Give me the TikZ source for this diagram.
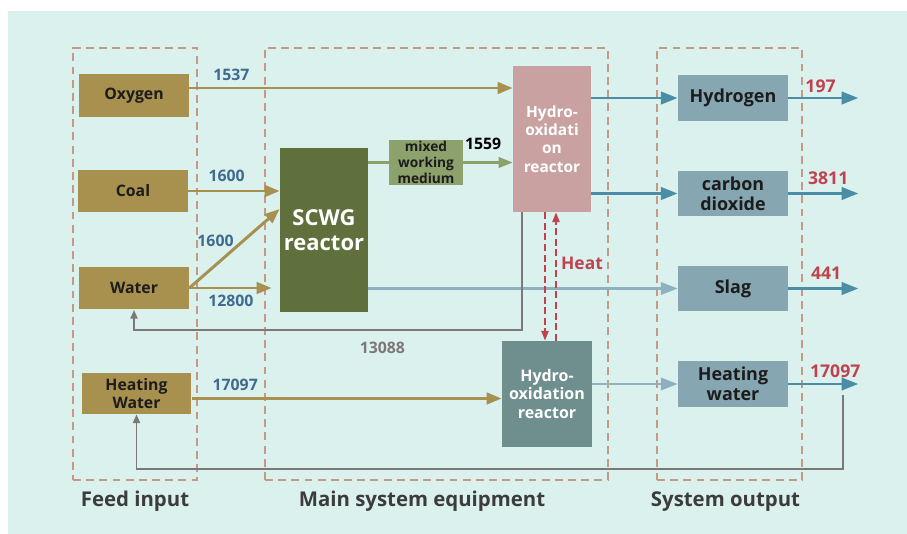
\documentclass[tikz,border=0pt]{standalone}
\usepackage{fontspec}
\setmainfont{Open Sans}
\usetikzlibrary{arrows.meta, positioning, calc}
\definecolor{bgcyan}{HTML}{DAF1EE}
\definecolor{feedgold}{HTML}{A8904F}
\definecolor{scwggreen}{HTML}{5F703C}
\definecolor{mixgreen}{HTML}{8DA16C}
\definecolor{hydpink}{HTML}{C9A1A1}
\definecolor{hydteal}{HTML}{6F8E8E}
\definecolor{outblue}{HTML}{86A6B2}
\definecolor{arrblue}{HTML}{4B8CA7}
\definecolor{paleblue}{HTML}{8EB0C0}
\definecolor{grpbrown}{HTML}{C49A84}
\definecolor{heatred}{HTML}{C0424D}
\definecolor{numblue}{HTML}{3F6B8F}
\definecolor{linegray}{HTML}{7D7878}
\definecolor{labelgray}{HTML}{3C3C3C}
\definecolor{boxtext}{HTML}{1C1C1C}
\newcommand{\feedfont}{\fontsize{9}{10.4}\selectfont\bfseries}
\newcommand{\outfont}{\fontsize{10.2}{11.4}\selectfont\bfseries}
\newcommand{\numfont}{\fontsize{9}{10}\selectfont\bfseries}
\tikzset{
  feedbox/.style={rectangle, fill=feedgold, minimum width=2.2cm, minimum height=0.86cm,
    font=\feedfont, align=center, text=boxtext, inner sep=1pt},
  outbox/.style={rectangle, fill=outblue, minimum width=2.2cm, minimum height=0.91cm,
    font=\outfont, align=center, text=boxtext, inner sep=1pt},
  reactor/.style={rectangle, align=center, text=white, inner sep=1pt},
  grp/.style={rectangle, draw=grpbrown, line width=1.1pt, dash pattern=on 4.5pt off 3pt},
  grplabel/.style={font=\fontsize{11.6}{13}\selectfont\bfseries, text=labelgray, inner sep=0pt},
  numlbl/.style={font=\numfont, text=numblue},
  outlbl/.style={font=\fontsize{10}{11}\selectfont\bfseries, text=heatred, inner sep=1pt},
  goldarr/.style={-{Triangle[length=8.5pt, width=6.5pt]}, line width=1.7pt, feedgold},
  greenline/.style={line width=1.4pt, mixgreen},
  greenarr/.style={-{Triangle[length=8pt, width=6pt]}, line width=1.4pt, mixgreen},
  bluearr/.style={-{Triangle[length=9.5pt, width=7pt]}, line width=1.7pt, arrblue},
  palearr/.style={-{Triangle[length=9.5pt, width=7pt]}, line width=1.2pt, paleblue},
  grayarr/.style={-{Triangle[length=5pt, width=4pt]}, line width=1.1pt, linegray},
  heatarr/.style={-{Triangle[length=5.5pt, width=4pt]}, line width=1.1pt, heatred,
    dash pattern=on 4pt off 2pt},
}

\begin{document}
\begin{tikzpicture}[x=0.02cm, y=-0.02cm]
  \useasboundingbox (0,0) rectangle (907,534);
  \fill[white] (0,0) rectangle (907,534);
  \fill[bgcyan] (8,11) rectangle (907,534);

  % dashed groups
  \node[grp, minimum width=2.48cm, minimum height=8.64cm] (feedgrp) at (135,264) {};
  \node[grp, minimum width=6.86cm, minimum height=8.64cm] (maingrp) at (436.5,264) {};
  \node[grp, minimum width=2.9cm, minimum height=8.64cm] (outgrp) at (729.5,264) {};
  \node[grplabel, below=0.2cm of feedgrp] (feedlbl) {Feed input};
  \node[grplabel, below=0.2cm of maingrp, xshift=-0.29cm] (mainlbl) {Main system equipment};
  \node[grplabel, below=0.2cm of outgrp, xshift=-0.08cm] (outlbl) {System output};

  % feed input
  \node[feedbox] (oxygen) at (134,95.5) {Oxygen};
  \node[feedbox] (coal) at (133,191) {Coal};
  \node[feedbox] (water) at (134,288) {Water};
  \node[feedbox, minimum height=0.82cm] (heatin) at (136.5,393.5) {Heating\\Water};

  % main equipment
  \node[reactor, fill=scwggreen, minimum width=1.76cm, minimum height=3.28cm,
    font=\fontsize{12.5}{14}\selectfont\bfseries] (scwg) at (324,230) {SCWG\\reactor};
  \node[reactor, fill=mixgreen, text=boxtext, minimum width=1.48cm, minimum height=0.9cm,
    font=\fontsize{7.8}{9}\selectfont\bfseries] (mixed) at (426,162.5) {mixed\\working\\medium};
  \node[reactor, fill=hydpink, minimum width=1.56cm, minimum height=2.92cm,
    font=\fontsize{8.8}{10.4}\selectfont\bfseries] (hydroA) at (552,139) {Hydro-\\oxidati\\on\\reactor};
  \node[reactor, fill=hydteal, minimum width=1.8cm, minimum height=2.12cm,
    font=\fontsize{9.1}{10.4}\selectfont\bfseries] (hydroB) at (547,394) {Hydro-\\oxidation\\reactor};

  % system output
  \node[outbox] (hydrogen) at (733,98) {Hydrogen};
  \node[outbox, minimum height=0.9cm] (cotwo) at (733,193.5) {carbon\\dioxide};
  \node[outbox, minimum height=0.9cm] (slag) at (733,288.5) {Slag};
  \node[outbox] (heatout) at (733,384) {Heating\\water};

  % feed flows
  \coordinate (oxout) at ([yshift=0.15cm]oxygen.east);
  \draw[goldarr] (oxout) -- node[numlbl, above, pos=0.13]{1537} (oxout -| hydroA.west);
  \draw[goldarr] (coal.east) -- node[numlbl, above=1pt, pos=0.42]{1600} (coal.east -| scwg.west);
  \draw[goldarr] (water.east) -- node[numlbl, left=1.5pt, pos=0.6]{1600} ([yshift=0.42cm]scwg.west);
  \draw[goldarr, shorten >=0.16cm] (water.east) -- node[numlbl, below, pos=0.46]{12800} (water.east -| scwg.west);
  \coordinate (hinout) at ([yshift=-0.1cm]heatin.east);
  \draw[goldarr] (hinout) -- node[numlbl, above, pos=0.14]{17097} (hinout -| hydroB.west);

  % main flows
  \draw[greenline] (scwg.east |- mixed.west) -- (mixed.west);
  \draw[greenarr] (mixed.east) -- node[numlbl, text=black, above=3pt, pos=0.4]{1559} (mixed.east -| hydroA.west);
  \draw[bluearr] (hydroA.east |- hydrogen.west) -- (hydrogen.west);
  \draw[bluearr] (hydroA.east |- cotwo.west) -- (cotwo.west);
  \draw[palearr] (scwg.east |- slag.west) -- (slag.west);
  \draw[palearr] (hydroB.east |- heatout.west) -- (heatout.west);
  \coordinate (rcout) at ([xshift=-0.6cm]hydroA.south);
  \draw[grayarr] (rcout) |- node[numlbl, text=linegray, below=3pt, pos=0.68]{13088}
    ([yshift=-0.4cm]water.south) -- (water.south);

  % heat exchange
  \coordinate (heatdn) at ([xshift=-0.14cm]hydroA.south);
  \coordinate (heatup) at ([xshift=0.08cm]hydroA.south);
  \draw[heatarr] (heatdn) -- (heatdn |- hydroB.north);
  \draw[heatarr] (heatup |- hydroB.north) -- (heatup);
  \node[font=\fontsize{9.9}{11}\selectfont\bfseries, text=heatred] (heatlabel) at (582,263) {Heat};

  % products
  \coordinate[right=1.4cm of hydrogen] (h2end);
  \coordinate[right=1.4cm of cotwo] (co2end);
  \coordinate[right=1.4cm of slag] (slagend);
  \coordinate[right=1.4cm of heatout] (hwend);
  \draw[bluearr] (hydrogen) -- node[outlbl, above=1pt, pos=0.46]{197} (h2end);
  \draw[bluearr] (cotwo) -- node[outlbl, above=3pt, pos=0.57]{3811} (co2end);
  \draw[bluearr] (slag) -- node[outlbl, above=3pt, pos=0.54]{441} (slagend);
  \draw[bluearr] (heatout) -- node[outlbl, above=1.5pt, pos=0.67]{17097} (hwend);
  \coordinate (hwret) at ($(hwend)+(-0.3cm,-0.22cm)$);
  \draw[grayarr] (hwret) |- ([yshift=-1.1cm]heatin.south) -- (heatin.south);
\end{tikzpicture}
\end{document}
